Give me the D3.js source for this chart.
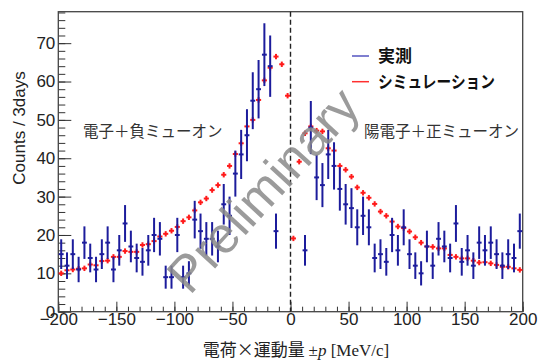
<!DOCTYPE html>
<html>
<head>
<meta charset="utf-8">
<script src="https://cdn.jsdelivr.net/npm/d3@7"></script>
<style>
  body { margin: 0; background: #fff; }
  svg { display: block; }
</style>
</head>
<body>
<svg id="chart"></svg>
<script>
// bin edges: -200..200, 5 MeV/c per bin (80 bins)
var binLo = -200, binWidth = 5;

// measured counts per bin (null = empty bin)
var measured = [15,12,15,11,18,14,11,15,18,11,
                16,23,17,14,13,16,20,19,9,9,
                20,9,10,24,21,19,19,17,28,25,
                36,41,46,55,58,67,64,21,null,null,
                null,null,16,48,35,33,41,38,32,28,
                27,22,25,22,14,15,13,20,16,22,
                15,12,10,17,12,19,17,14,23,13,
                16,12,18,16,18,15,12,15,14,21];

// simulation (scaled) per bin
var simulation = [10.0,10.8,11.0,11.2,11.3,12.3,12.1,13.2,13.3,14.3,
                  14.3,15.8,15.6,15.6,17.4,17.6,18.4,19.6,20.3,21.1,
                  22.1,23.6,24.6,26.4,28.5,29.5,31.7,33.0,35.7,38.0,
                  41.1,43.9,48.3,50.0,55.2,60.3,63.6,66.5,64.5,56.3,
                  19.1,39.1,46.5,48.3,47.2,47.0,42.6,42.0,38.0,37.0,
                  35.2,32.4,31.0,29.7,28.1,26.1,25.0,23.5,22.2,21.8,
                  20.9,19.4,18.0,17.0,16.9,16.5,16.5,14.8,14.3,13.9,
                  13.9,13.3,12.8,12.9,12.6,12.2,11.7,11.7,11.3,10.9];
var simErr = 0.7;

var xTicks = [-200,-150,-100,-50,0,50,100,150,200];
var yTicks = [0,10,20,30,40,50,60,70];
var legendLabels = ["実測", "シミュレーション"];
var leftLabel = "電子＋負ミューオン";
var rightLabel = "陽電子＋正ミューオン";

var W = 542, H = 363;
var frame = {left: 58.3, right: 522.7, top: 11.7, bottom: 311.7};
var blue = "#1c1c9c", red = "#ff1a1a";

var svg = d3.select("#chart").attr("width", W).attr("height", H);

var x = d3.scaleLinear().domain([-200, 200]).range([frame.left, frame.right]);
var y = d3.scaleLinear().domain([0, 78.2]).range([frame.bottom, frame.top]);

var bins = measured.map(function(d, i) {
  return {c: binLo + binWidth * (i + 0.5), n: d, s: simulation[i]};
});

// axes, ROOT style (ticks inside)
var xAxis = d3.axisBottom(x).tickValues(d3.range(-200, 201, 10))
  .tickSize(-5).tickSizeOuter(0).tickFormat("");
var xAxisMajor = d3.axisBottom(x).tickValues(xTicks)
  .tickSize(-10).tickSizeOuter(0).tickPadding(3)
  .tickFormat(function(d) { return d < 0 ? "\u2212" + (-d) : d; });
var yAxis = d3.axisLeft(y).tickValues(d3.range(0, 78.1, 2))
  .tickSize(-7).tickSizeOuter(0).tickFormat("");
var yAxisMajor = d3.axisLeft(y).tickValues(yTicks)
  .tickSize(-13).tickSizeOuter(0).tickPadding(3);

var gx = svg.append("g").attr("transform", "translate(0," + frame.bottom + ")");
gx.call(xAxis);
var gx2 = svg.append("g").attr("transform", "translate(0," + frame.bottom + ")");
gx2.call(xAxisMajor);
var gy = svg.append("g").attr("transform", "translate(" + frame.left + ",0)");
gy.call(yAxis);
var gy2 = svg.append("g").attr("transform", "translate(" + frame.left + ",0)");
gy2.call(yAxisMajor);

svg.selectAll(".domain").remove();
svg.selectAll(".tick line").attr("stroke", "#333").attr("stroke-width", 1);
gx2.selectAll("text").attr("font-family", "Liberation Sans, Arial, sans-serif")
  .attr("font-size", "17px").attr("fill", "#222").attr("dy", "0.6em");
gy2.selectAll("text").attr("font-family", "Liberation Sans, Arial, sans-serif")
  .attr("font-size", "17px").attr("fill", "#222");

// frame box
svg.append("rect")
  .attr("x", frame.left).attr("y", frame.top)
  .attr("width", frame.right - frame.left).attr("height", frame.bottom - frame.top)
  .attr("fill", "none").attr("stroke", "#444").attr("stroke-width", 1.3);

// dashed line at zero
svg.append("line")
  .attr("x1", x(0)).attr("x2", x(0))
  .attr("y1", frame.top).attr("y2", frame.bottom)
  .attr("stroke", "#222").attr("stroke-width", 1.4)
  .attr("stroke-dasharray", "5,3");

// simulation points
var sim = svg.append("g");
sim.selectAll(".sh").data(bins).join("line")
  .attr("x1", function(d) { return x(d.c - 2.2); })
  .attr("x2", function(d) { return x(d.c + 2.2); })
  .attr("y1", function(d) { return y(d.s); })
  .attr("y2", function(d) { return y(d.s); })
  .attr("stroke", red).attr("stroke-width", 2);
sim.selectAll(".sv").data(bins).join("line")
  .attr("x1", function(d) { return x(d.c); })
  .attr("x2", function(d) { return x(d.c); })
  .attr("y1", function(d) { return y(d.s - simErr); })
  .attr("y2", function(d) { return y(d.s + simErr); })
  .attr("stroke", red).attr("stroke-width", 2);

// measured points with sqrt(N) errors
var meas = svg.append("g");
var mb = bins.filter(function(d) { return d.n != null; });
meas.selectAll(".mv").data(mb).join("line")
  .attr("x1", function(d) { return x(d.c); })
  .attr("x2", function(d) { return x(d.c); })
  .attr("y1", function(d) { return y(d.n - Math.sqrt(d.n)); })
  .attr("y2", function(d) { return y(d.n + Math.sqrt(d.n)); })
  .attr("stroke", blue).attr("stroke-width", 2);
meas.selectAll(".mh").data(mb).join("line")
  .attr("x1", function(d) { return x(d.c - 2.1); })
  .attr("x2", function(d) { return x(d.c + 2.1); })
  .attr("y1", function(d) { return y(d.n); })
  .attr("y2", function(d) { return y(d.n); })
  .attr("stroke", blue).attr("stroke-width", 2);

// axis titles
svg.append("text")
  .attr("transform", "translate(25," + 128 + ") rotate(-90)")
  .attr("text-anchor", "middle")
  .attr("font-family", "Liberation Sans, Arial, sans-serif")
  .attr("font-size", "17px").attr("fill", "#222")
  .text("Counts / 3days");

var xt = svg.append("text")
  .attr("x", 296).attr("y", 356)
  .attr("text-anchor", "middle")
  .attr("font-size", "17px").attr("fill", "#222");
xt.append("tspan").attr("font-family", "Noto Sans CJK JP").text("電荷×運動量 ");
xt.append("tspan").attr("font-family", "Liberation Serif").text("±");
xt.append("tspan").attr("font-family", "Liberation Serif").attr("font-style", "italic").text("p");
xt.append("tspan").attr("font-family", "Liberation Serif").text(" [MeV/c]");

// region labels
svg.append("text").attr("x", 83).attr("y", 137)
  .attr("font-family", "Noto Sans CJK JP").attr("font-size", "15.5px").attr("fill", "#333")
  .text(leftLabel);
svg.append("text").attr("x", 364).attr("y", 137)
  .attr("font-family", "Noto Sans CJK JP").attr("font-size", "15.5px").attr("fill", "#333")
  .text(rightLabel);

// legend
var lg = svg.append("g");
var lcolors = ["#5555c0", "#ff3030"];
legendLabels.forEach(function(t, i) {
  var ly = 56 + i * 25.7;
  lg.append("line").attr("x1", 352).attr("x2", 369).attr("y1", ly).attr("y2", ly)
    .attr("stroke", lcolors[i]).attr("stroke-width", 1.5);
  var tx = lg.append("text").attr("x", 378).attr("y", ly + 6)
    .attr("font-family", "Noto Sans CJK JP").attr("font-weight", "bold")
    .attr("font-size", "17px").attr("fill", "#111").text(t);
  if (i == 1) tx.attr("textLength", 117).attr("lengthAdjust", "spacingAndGlyphs");
});

// watermark
svg.append("text")
  .attr("transform", "translate(276,202) rotate(-47.5)")
  .attr("text-anchor", "middle")
  .attr("font-family", "Liberation Sans, Arial, sans-serif")
  .attr("font-size", "51px").attr("fill", "#8a8a8a").attr("fill-opacity", 0.85)
  .text("Preliminary");
</script>
</body>
</html>
